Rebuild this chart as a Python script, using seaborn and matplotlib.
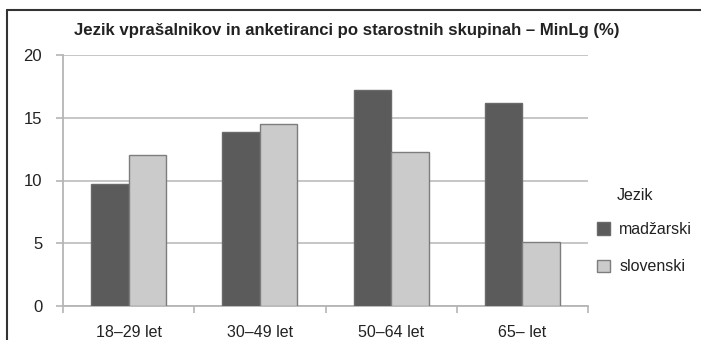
import matplotlib
matplotlib.use("Agg")
import matplotlib.pyplot as plt
from matplotlib.lines import Line2D
from matplotlib.patches import Patch
import seaborn as sns
import pandas as pd

# Survey language by age group, MinLg (%)
age_groups = ["18–29 let", "30–49 let", "50–64 let", "65– let"]
madzarski = [9.7, 13.9, 17.2, 16.2]
slovenski = [12.0, 14.5, 12.3, 5.1]
languages = ["madžarski", "slovenski"]
y_ticks = [0, 5, 10, 15, 20]

df = pd.DataFrame({
    "age": age_groups * 2,
    "lang": [languages[0]] * 4 + [languages[1]] * 4,
    "value": madzarski + slovenski,
})

sns.set_theme(style="white")
plt.rcParams["font.family"] = ["Liberation Sans", "DejaVu Sans"]
text_color = "#222222"

W, H = 701, 340
fig = plt.figure(figsize=(W / 100, H / 100), dpi=100)
ax = fig.add_axes([63 / W, 1 - 306 / H, (588 - 63) / W, (306 - 55) / H])

colors = {"madžarski": "#5b5b5b", "slovenski": "#cbcbcb"}
edges = {"madžarski": "#6a6a6a", "slovenski": "#7d7d7d"}
sns.barplot(data=df, x="age", y="value", hue="lang", order=age_groups,
            hue_order=languages, palette=colors, width=0.57,
            legend=False, ax=ax, zorder=3)
for cont, lang in zip(ax.containers, languages):
    for bar in cont:
        bar.set_edgecolor(edges[lang])
        bar.set_linewidth(1.0)

ax.set_xlim(-0.5, 3.5)
ax.set_ylim(0, 20)
ax.set_yticks(y_ticks)
ax.set_yticklabels([str(v) for v in y_ticks], fontsize=12, color=text_color)
ax.yaxis.grid(True, color="#c2c2c2", linewidth=1.3, zorder=0)
ax.set_axisbelow(True)
ax.set_xlabel("")
ax.set_ylabel("")

for side in ["top", "right"]:
    ax.spines[side].set_visible(False)
for side in ["left", "bottom"]:
    ax.spines[side].set_color("#b5b5b5")
    ax.spines[side].set_linewidth(1.3)

ax.tick_params(axis="y", which="major", left=True, length=5, width=1.2,
               color="#b5b5b5", pad=10)
ax.tick_params(axis="x", which="major", bottom=False, labelsize=11.5,
               labelcolor=text_color, pad=8)
ax.set_xticks([-0.5, 0.5, 1.5, 2.5, 3.5], minor=True)
ax.tick_params(axis="x", which="minor", bottom=True, length=5, width=1.2,
               color="#b5b5b5")

fig.text(347 / W, 1 - 30 / H,
         "Jezik vprašalnikov in anketiranci po starostnih skupinah – MinLg (%)",
         ha="center", va="center", fontsize=12.1, fontweight="bold",
         color=text_color)

# legend: title sits above the labels, aligned with their text
fig.text(617 / W, 1 - 196 / H, "Jezik", ha="left", va="center",
         fontsize=11.5, color=text_color)
handles = [Patch(facecolor=colors[l], edgecolor=edges[l], linewidth=1.0)
           for l in languages]
leg = fig.legend(handles, languages, loc="upper left",
                 bbox_to_anchor=(597 / W, 1 - 222 / H), frameon=False,
                 fontsize=11.5, handlelength=0.8,
                 handleheight=0.8, handletextpad=0.6, labelspacing=1.4,
                 borderaxespad=0, borderpad=0)
for t in leg.get_texts():
    t.set_color(text_color)

# outer frame (left and top edges)
fig.add_artist(Line2D([7 / W, 7 / W], [0, 1 - 10 / H], color="#333333",
                      linewidth=1.5, transform=fig.transFigure))
fig.add_artist(Line2D([7 / W, 1], [1 - 10 / H, 1 - 10 / H], color="#333333",
                      linewidth=1.5, transform=fig.transFigure))

fig.savefig("out.png", dpi=100, facecolor="white")
